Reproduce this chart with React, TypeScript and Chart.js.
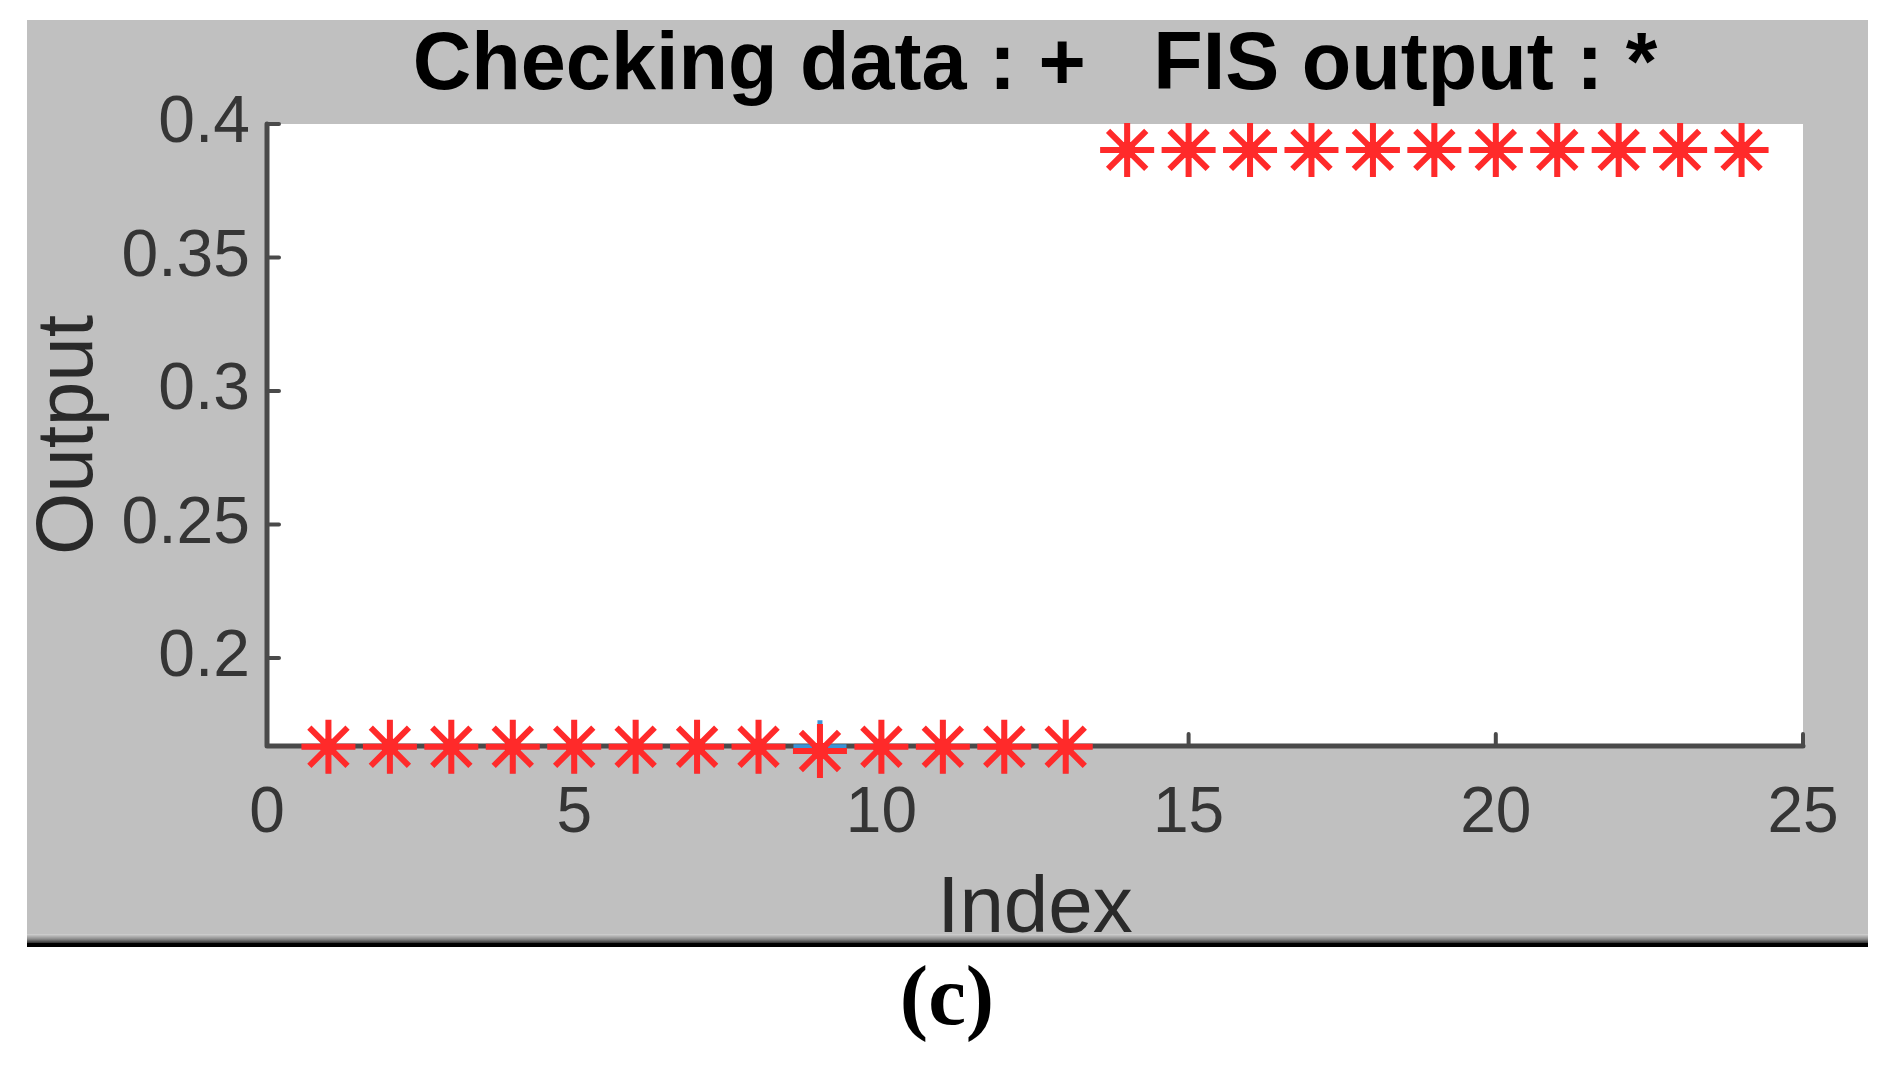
import React, { useEffect, useRef } from 'react';
import { Chart, registerables } from 'chart.js';

Chart.register(...registerables);

// ---- data ----
const indices = [1, 2, 3, 4, 5, 6, 7, 8, 9, 10, 11, 12, 13, 14, 15, 16, 17, 18, 19, 20, 21, 22, 23, 24];
const fisOutput = [
  0.1667, 0.1667, 0.1667, 0.1667, 0.1667, 0.1667, 0.1667, 0.1667, 0.1651, 0.1667, 0.1667, 0.1667, 0.1667,
  0.3903, 0.3903, 0.3903, 0.3903, 0.3903, 0.3903, 0.3903, 0.3903, 0.3903, 0.3903, 0.3903,
];
const checkingData = [
  0.1667, 0.1667, 0.1667, 0.1667, 0.1667, 0.1667, 0.1667, 0.1667, 0.1667, 0.1667, 0.1667, 0.1667, 0.1667,
  0.3903, 0.3903, 0.3903, 0.3903, 0.3903, 0.3903, 0.3903, 0.3903, 0.3903, 0.3903, 0.3903,
];
const xTickValues = [0, 5, 10, 15, 20, 25];
const xTickLabels = ['0', '5', '10', '15', '20', '25'];
const yTickValues = [0.2, 0.25, 0.3, 0.35, 0.4];
const yTickLabels = ['0.2', '0.25', '0.3', '0.35', '0.4'];
const xRange = [0, 25];
const yRange = [0.167, 0.4];
const titleText = 'Checking data : +   FIS output : *';
const xLabel = 'Index';
const yLabel = 'Output';
const panelLabel = '(c)';

const framePlugin = {
  id: 'matlabFrame',
  beforeDraw(chart: any) {
    const { ctx, chartArea: a } = chart;
    ctx.save();
    ctx.fillStyle = '#c0c0c0';
    ctx.fillRect(27, 20, 1841, 916);
    const g = ctx.createLinearGradient(0, 934, 0, 944);
    g.addColorStop(0, '#d2d2d2');
    g.addColorStop(0.5, '#8c8c8c');
    g.addColorStop(1, '#1a1a1a');
    ctx.fillStyle = g;
    ctx.fillRect(27, 934, 1841, 10);
    ctx.fillStyle = '#000';
    ctx.fillRect(27, 943, 1841, 4);
    ctx.fillStyle = '#ffffff';
    ctx.fillRect(a.left, a.top, a.right - a.left, a.bottom - a.top);
    ctx.restore();
  },
  beforeDatasetsDraw(chart: any) {
    const { ctx, chartArea: a, scales } = chart;
    ctx.save();
    ctx.strokeStyle = '#4a4a4a';
    ctx.lineWidth = 5;
    ctx.lineCap = 'round';
    ctx.lineJoin = 'round';
    ctx.beginPath();
    ctx.moveTo(a.left, a.top);
    ctx.lineTo(a.left, a.bottom);
    ctx.lineTo(a.right, a.bottom);
    ctx.stroke();
    ctx.lineWidth = 4;
    ctx.beginPath();
    for (const t of scales.y.ticks) {
      const py = scales.y.getPixelForValue(t.value);
      ctx.moveTo(a.left, py);
      ctx.lineTo(a.left + 12, py);
    }
    for (const t of scales.x.ticks) {
      const px = scales.x.getPixelForValue(t.value);
      if (Math.abs(px - a.left) < 2) continue;
      ctx.moveTo(px, a.bottom);
      ctx.lineTo(px, a.bottom - 12);
    }
    ctx.stroke();
    ctx.restore();
  },
};

export default function App() {
  const canvasRef = useRef<HTMLCanvasElement | null>(null);

  useEffect(() => {
    const canvas = canvasRef.current;
    if (!canvas) return;
    const fisPoints = indices.map((x, i) => ({ x, y: fisOutput[i] }));
    const checkPoints = indices.map((x, i) => ({ x, y: checkingData[i] }));

    const chart = new Chart(canvas, {
      type: 'scatter',
      data: {
        datasets: [
          {
            label: 'FIS output',
            data: fisPoints,
            pointStyle: 'star',
            pointRadius: 27,
            pointBorderWidth: 6,
            borderColor: '#ff2a2a',
            backgroundColor: '#ff2a2a',
            clip: false,
          } as any,
          {
            label: 'FIS output centre',
            data: fisPoints,
            pointStyle: 'circle',
            pointRadius: 8.5,
            pointBorderWidth: 0,
            backgroundColor: '#ff0000',
            borderColor: '#ff0000',
            clip: false,
          } as any,
          {
            label: 'Checking data',
            data: checkPoints,
            pointStyle: 'cross',
            pointRadius: 26.5,
            pointBorderWidth: 5,
            borderColor: '#3a93d6',
            backgroundColor: '#3a93d6',
            clip: false,
          } as any,
        ],
      },
      options: {
        responsive: false,
        animation: false,
        devicePixelRatio: 1,
        layout: { padding: { top: 20, left: 26, right: 82, bottom: 127 } },
        plugins: {
          legend: { display: false },
          tooltip: { enabled: false },
          title: {
            display: true,
            text: titleText,
            fullSize: false,
            color: '#000000',
            font: { family: '"Liberation Sans", Arial, sans-serif', size: 81, weight: 'bold', lineHeight: 1 },
            padding: { top: 6, bottom: 17 },
          },
        },
        scales: {
          x: {
            type: 'linear',
            min: xRange[0],
            max: xRange[1],
            grid: { display: false, drawTicks: false },
            border: { display: false },
            afterBuildTicks: (s: any) => {
              s.ticks = xTickValues.map((v) => ({ value: v }));
            },
            afterFit: (s: any) => {
              s.height = 194;
            },
            ticks: {
              autoSkip: false,
              maxRotation: 0,
              padding: 30,
              color: '#353535',
              font: { family: '"Liberation Sans", Arial, sans-serif', size: 64 },
              callback: (v: any) => xTickLabels[xTickValues.indexOf(Number(v))],
            },
            title: {
              display: true,
              text: xLabel,
              color: '#2a2a2a',
              font: { family: '"Liberation Sans", Arial, sans-serif', size: 80, lineHeight: 0.75 },
              padding: 0,
            },
          },
          y: {
            type: 'linear',
            min: yRange[0],
            max: yRange[1],
            grid: { display: false, drawTicks: false },
            border: { display: false },
            afterBuildTicks: (s: any) => {
              s.ticks = yTickValues.map((v) => ({ value: v }));
            },
            afterFit: (s: any) => {
              s.width = 241;
            },
            ticks: {
              autoSkip: false,
              padding: 17,
              color: '#353535',
              font: { family: '"Liberation Sans", Arial, sans-serif', size: 66 },
              callback: (v: any) => {
                const i = yTickValues.findIndex((t) => Math.abs(t - Number(v)) < 1e-9);
                return i >= 0 ? yTickLabels[i] : '';
              },
            },
            title: {
              display: true,
              text: yLabel,
              color: '#2a2a2a',
              font: { family: '"Liberation Sans", Arial, sans-serif', size: 80, lineHeight: 0.9 },
              padding: { top: 8, bottom: 0 },
            },
          },
        },
      },
      plugins: [framePlugin],
    });

    return () => {
      chart.destroy();
    };
  }, []);

  return (
    <div style={{ position: 'absolute', left: 0, top: 0, width: 1885, height: 1067, background: '#ffffff' }}>
      <canvas ref={canvasRef} width={1885} height={1067} style={{ display: 'block', width: 1885, height: 1067 }} />
      <div
        style={{
          position: 'absolute',
          left: 847,
          width: 200,
          top: 953,
          textAlign: 'center',
          fontFamily: '"Liberation Serif", "Times New Roman", serif',
          fontWeight: 'bold',
          fontSize: 85,
          lineHeight: 1,
          color: '#000',
        }}
      >
        {panelLabel}
      </div>
    </div>
  );
}
